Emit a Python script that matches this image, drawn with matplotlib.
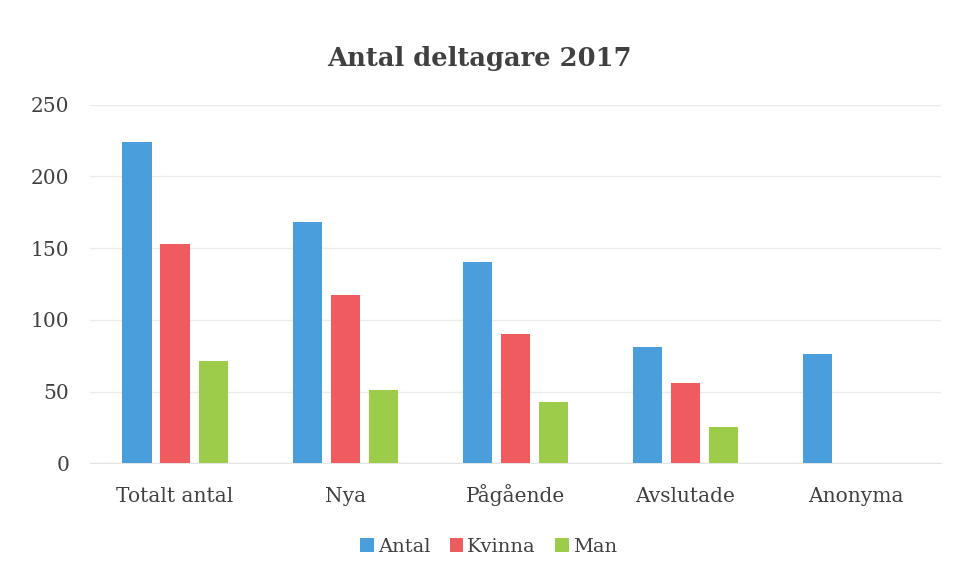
import matplotlib
matplotlib.use("Agg")
import matplotlib.pyplot as plt
import numpy as np

categories = ["Totalt antal", "Nya", "Pågående", "Avslutade", "Anonyma"]
antal = [224, 168, 140, 81, 76]
kvinna = [153, 117, 90, 56, 0]
man = [71, 51, 43, 25, 0]
series_names = ["Antal", "Kvinna", "Man"]
colors = ["#4A9EDB", "#EF5B5E", "#9DCB4A"]
yticks = [0, 50, 100, 150, 200, 250]

plt.rcParams['font.family'] = ['DejaVu Serif']
text_color = "#404040"

fig = plt.figure(figsize=(9.58, 5.65), dpi=100)
ax = fig.add_axes([0.094, 0.18, 0.888, 0.635])

x = np.arange(len(categories))
w = 0.172
step = 0.224
for i, (vals, name, c) in enumerate(zip([antal, kvinna, man], series_names, colors)):
    ax.bar(x + (i - 1) * step, vals, width=w, color=c, label=name, zorder=3)

ax.set_xlim(-0.5, len(categories) - 0.5)
ax.set_ylim(0, 250)
ax.set_yticks(yticks)
ax.set_xticks(x)
ax.set_xticklabels(categories)
ax.tick_params(axis='both', length=0, labelsize=14.5, colors=text_color)
ax.tick_params(axis='x', pad=28)
ax.tick_params(axis='y', pad=15)
for lab in ax.get_xticklabels():
    lab.set_va('baseline')
ax.grid(axis='y', color="#ececec", linewidth=1, zorder=0)
for s in ["top", "right", "left"]:
    ax.spines[s].set_visible(False)
ax.spines["bottom"].set_color("#e4e4e4")

fig.suptitle("Antal deltagare 2017", fontsize=18.5, fontweight='bold', color=text_color, y=0.918)

leg = fig.legend(loc="center", bbox_to_anchor=(0.51, 0.032), ncol=3, frameon=False,
                 fontsize=14, handlelength=0.7, handleheight=0.7, handletextpad=0.2,
                 columnspacing=1.0)
for t in leg.get_texts():
    t.set_color(text_color)

fig.savefig("out.png", dpi=100)
